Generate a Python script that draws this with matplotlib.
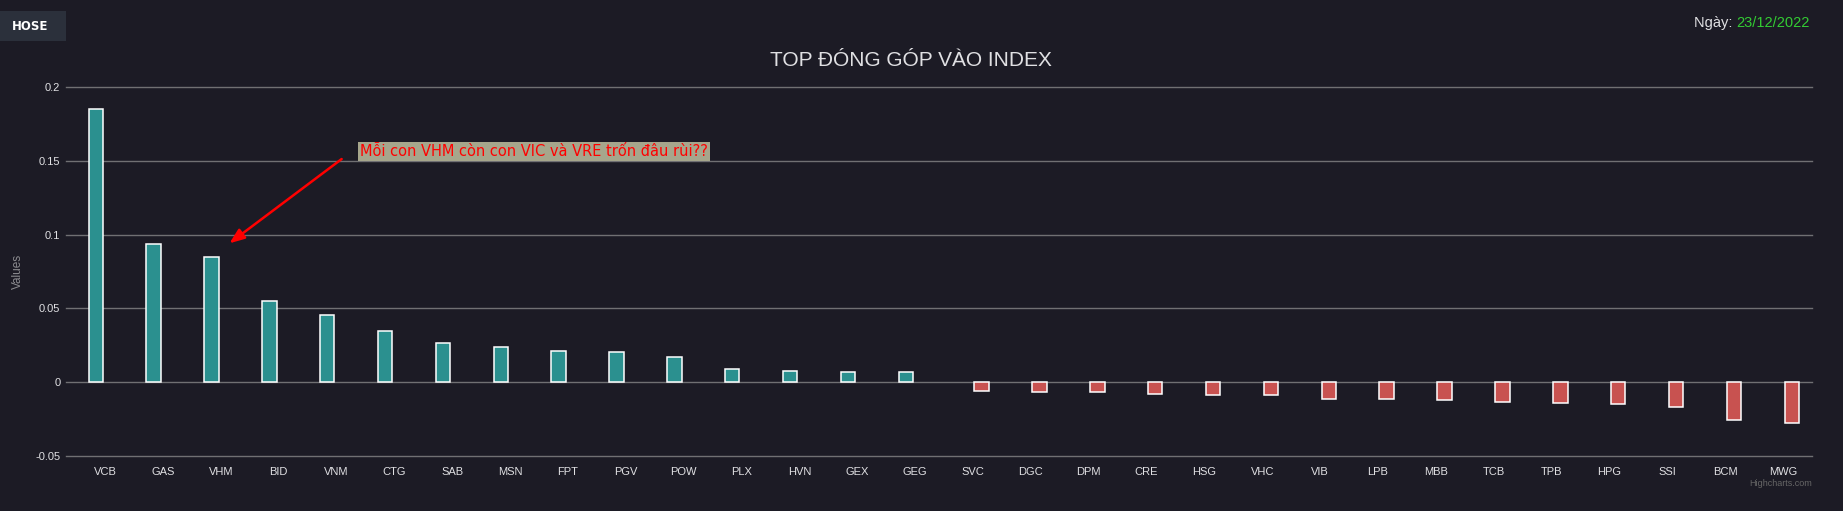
import matplotlib.pyplot as plt

# Top contributors to the HOSE index on 23/12/2022
up_tickers = ["VCB", "GAS", "VHM", "BID", "VNM", "CTG", "SAB", "MSN", "FPT", "PGV",
              "POW", "PLX", "HVN", "GEX", "GEG"]
up_values = [0.1849, 0.0934, 0.0846, 0.0552, 0.0457, 0.0348, 0.0266, 0.0239, 0.0211,
             0.0205, 0.0171, 0.0089, 0.0075, 0.0068, 0.0068]

down_tickers = ["SVC", "DGC", "DPM", "CRE", "HSG", "VHC", "VIB", "LPB", "MBB", "TCB",
                "TPB", "HPG", "SSI", "BCM", "MWG"]
down_values = [-0.0061, -0.0068, -0.0068, -0.0078, -0.0085, -0.0087, -0.0113, -0.0113,
               -0.0120, -0.0133, -0.0141, -0.0148, -0.0168, -0.0257, -0.0278]

y_ticks = [-0.05, 0, 0.05, 0.1, 0.15, 0.2]
y_tick_labels = ["-0.05", "0", "0.05", "0.1", "0.15", "0.2"]

BG = "#1c1b25"
GRID = "#707073"
TEXT = "#e0e0e3"
TEAL = "#2b908f"
RED = "#c85250"

W, H = 1843, 511

fig = plt.figure(figsize=(W / 100, H / 100), dpi=100)
fig.patch.set_facecolor(BG)

# plot area in pixels: x 66..1812, y 87..456 (from top)
ax = fig.add_axes([66 / W, (H - 456) / H, (1812 - 66) / W, (456 - 87) / H])
ax.set_facecolor(BG)

categories = up_tickers + down_tickers
n_up = len(up_tickers)
x_up = [i - 0.16 for i in range(n_up)]
x_down = [n_up + i + 0.15 for i in range(len(down_tickers))]

ax.bar(x_up, up_values, width=0.25, color=TEAL, edgecolor="white", linewidth=1.1, zorder=3)
ax.bar(x_down, down_values, width=0.25, color=RED, edgecolor="white", linewidth=1.1, zorder=3)

ax.set_xlim(-0.674, 29.5)
ax.set_ylim(-0.05, 0.2)
ax.set_yticks(y_ticks)
ax.set_yticklabels(y_tick_labels)
ax.set_xticks(range(len(categories)))
ax.set_xticklabels(categories)
ax.tick_params(axis="both", length=0, colors=TEXT, labelsize=8)
ax.tick_params(axis="y", pad=4)
ax.tick_params(axis="x", pad=8)
for lab in ax.get_xticklabels() + ax.get_yticklabels():
    lab.set_family("Liberation Sans")

for yv in y_ticks:
    ax.axhline(yv, color=GRID, linewidth=1, zorder=1, clip_on=False)
for s in ax.spines.values():
    s.set_visible(False)

ax.set_ylabel("Values", color="#8c8c90", fontsize=8.5, family="Liberation Sans")
ax.yaxis.set_label_coords((24 - 66) / (1812 - 66), 0.5)

# annotation pointing at VHM
vhm = up_tickers.index("VHM")
ax.annotate("", xy=(vhm + 0.15, 0.0941), xytext=(vhm + 2.09, 0.1512),
            arrowprops=dict(arrowstyle="-|>,head_length=0.9,head_width=0.35",
                            color="#ff0000", lw=1.8, shrinkA=0, shrinkB=0), zorder=6)
ax.text(vhm + 2.41, 0.1562, "Mỗi con VHM còn con VIC và VRE trốn đâu rùi??",
        color="#ff0000", fontsize=10.5, family="DejaVu Sans", va="center", ha="left",
        bbox=dict(boxstyle="square,pad=0.12", fc="#a6a68c", ec="none"), zorder=6)

# title and header items
fig.text(911 / W, 1 - 66 / H, "TOP ĐÓNG GÓP VÀO INDEX", color=TEXT, fontsize=15,
         family="Liberation Sans", ha="center", va="baseline")

fig.patches.append(plt.Rectangle((0, 1 - 41 / H), 66 / W, 30 / H, transform=fig.transFigure,
                                 fc="#2b303b", ec="none"))
fig.text(30 / W, 1 - 26 / H, "HOSE", color="white", fontsize=8.5, fontweight="bold",
         family="DejaVu Sans", ha="center", va="center")

t1 = fig.text(1694 / W, 1 - 23 / H, "Ngày: ", color=TEXT, fontsize=10.5,
              family="Liberation Sans", ha="left", va="center")
fig.canvas.draw()
bb = t1.get_window_extent()
fig.text(bb.x1 / W, 1 - 23 / H, "23/12/2022", color="#33cc33", fontsize=10.5,
         family="Liberation Sans", ha="left", va="center")

fig.text(1812 / W, 1 - 483 / H, "Highcharts.com", color="#666666", fontsize=6.5,
         family="Liberation Sans", ha="right", va="center")

fig.savefig("out.png", dpi=100, facecolor=BG)
